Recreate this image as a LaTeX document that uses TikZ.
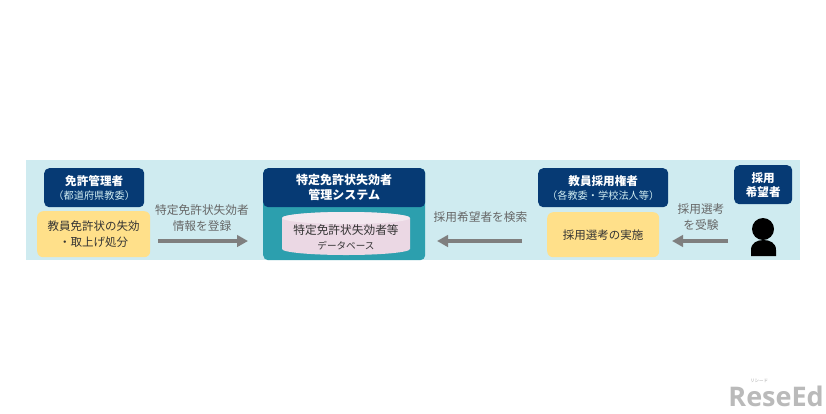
\documentclass[tikz,border=0pt]{standalone}
\usepackage{fontspec}
\setmainfont{Noto Sans CJK JP}
\newfontfamily\wm{Open Sans}
\usetikzlibrary{arrows.meta}
\definecolor{bgc}{HTML}{CFEBF0}
\definecolor{navy}{HTML}{063A74}
\definecolor{yel}{HTML}{FFE08A}
\definecolor{tealc}{HTML}{2C9FAE}
\definecolor{pinkc}{HTML}{EBD8E4}
\definecolor{pinktop}{HTML}{F3E8EF}
\definecolor{txt}{HTML}{333333}
\definecolor{lbl}{HTML}{666666}
\definecolor{arrowc}{HTML}{7F7F7F}
\tikzset{
  navybox/.style={fill=navy,rounded corners=5pt,text=white,inner sep=0pt,align=center,font=\fontsize{11.6}{14}\selectfont},
  yelbox/.style={fill=yel,rounded corners=6pt,text=txt,inner sep=0pt,align=center,font=\fontsize{11.5}{16}\selectfont},
  lab/.style={text=lbl,align=center,inner sep=0pt,font=\fontsize{11.7}{16}\selectfont},
  flow/.style={draw=arrowc,line width=3.8pt,-{Triangle[length=11pt,width=11.5pt]}},
}
\newcommand{\bx}[1]{\textbf{#1}}
\begin{document}
\begin{tikzpicture}[x=1pt,y=-1pt]
\useasboundingbox (0,0) rectangle (826,413);
\fill[white] (0,0) rectangle (826,413);
\fill[bgc] (26,160) rectangle (800,260);
% centre
\node[fill=tealc,rounded corners=5pt,minimum width=162pt,minimum height=92pt,inner sep=0pt,anchor=north west] (sys) at (263,168) {};
\node[navybox,minimum width=162pt,minimum height=39pt,anchor=north west,font=\fontsize{12}{15}\selectfont] (sysh) at (263,168) {\bx{特定免許状失効者}\\\bx{管理システム}};
\fill[pinkc] (282,218) arc[x radius=64,y radius=6,start angle=180,end angle=360] -- (410,249) arc[x radius=64,y radius=6,start angle=0,end angle=180] -- cycle;
\fill[pinktop] (346,218) ellipse[x radius=64,y radius=6];
\node[text=txt,align=center,inner sep=0pt,font=\fontsize{11.7}{15}\selectfont] (dbt) at (346,237) {特定免許状失効者等\\{\fontsize{9.6}{15}\selectfont データベース}};
% left
\node[navybox,minimum width=100pt,minimum height=39pt,anchor=north west] (a) at (44,168) {\bx{免許管理者}\\{\color{bgc}\fontsize{10.2}{13}\selectfont （都道府県教委）}};
\node[yelbox,minimum width=113pt,minimum height=46pt,anchor=north west] (ay) at (37,211) {教員免許状の失効\\・取上げ処分};
% right
\node[navybox,minimum width=130pt,minimum height=39pt,anchor=north west] (b) at (538,168) {\bx{教員採用権者}\\{\color{bgc}\fontsize{10.2}{13}\selectfont （各教委・学校法人等）}};
\node[yelbox,minimum width=112pt,minimum height=45pt,anchor=north west] (by) at (547,212) {採用選考の実施};
\node[navybox,minimum width=58pt,minimum height=39pt,anchor=north west] (c) at (734,165) {\bx{採用}\\\bx{希望者}};
% person
\node[circle,fill=black,minimum size=22pt,inner sep=0pt] (head) at (763,229) {};
\fill[black] (751,256) -- (751,250) .. controls (751,243) and (757,240) .. (763.5,240) .. controls (770,240) and (776,243) .. (776,250) -- (776,256) -- cycle;
% arrows
\coordinate (p1) at (158,241);
\coordinate (p2) at (248,241);
\coordinate (p3) at (522,241);
\coordinate (p4) at (437,241);
\coordinate (p5) at (728,241);
\coordinate (p6) at (672,241);
\draw[flow] (p1) -- (p2);
\draw[flow] (p3) -- (p4);
\draw[flow] (p5) -- (p6);
% labels
\node[lab] (l1) at (202,218) {特定免許状失効者\\情報を登録};
\node[lab] (l2) at (480.5,217) {採用希望者を検索};
\node[lab] (l3) at (701,217) {採用選考\\を受験};
% watermark
\node[text=black!27,inner sep=0pt,anchor=east,font=\wm\bfseries\fontsize{27}{27}\selectfont] (wm) at (824,396) {ReseEd};
\node[text=black!35,inner sep=0pt,font=\fontsize{4.5}{5}\selectfont] (wm2) at (759,381) {リシード};
\end{tikzpicture}
\end{document}
